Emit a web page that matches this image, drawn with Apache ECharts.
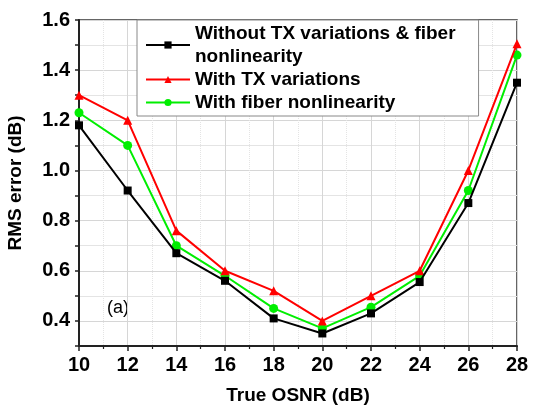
<!DOCTYPE html>
<html><head><meta charset="utf-8">
<script src="https://cdn.jsdelivr.net/npm/echarts@6/dist/echarts.min.js"></script>
<style>html,body{margin:0;padding:0;background:#fff}#c{width:547px;height:409px}</style>
</head><body><div id="c"></div>
<script>
const osnr = [10, 12, 14, 16, 18, 20, 22, 24, 26, 28];
const withoutBoth = [1.18, 0.92, 0.67, 0.56, 0.41, 0.35, 0.43, 0.555, 0.87, 1.35];
const withTx = [1.30, 1.20, 0.76, 0.60, 0.52, 0.40, 0.50, 0.60, 1.00, 1.505];
const withFiber = [1.23, 1.10, 0.70, 0.58, 0.45, 0.37, 0.455, 0.58, 0.92, 1.46];
const yTickLabels = ['0.4', '0.6', '0.8', '1.0', '1.2', '1.4', '1.6'];
const names = ['Without TX variations & fiber\nnonlinearity', 'With TX variations', 'With fiber nonlinearity'];
const colors = ['#000000', '#ff0000', '#00ee00'];
const symbols = ['rect', 'triangle', 'circle'];
const sets = [withoutBoth, withTx, withFiber];
const font = 'Arial, "Liberation Sans", sans-serif';

const chart = echarts.init(document.getElementById('c'));
chart.setOption({
  animation: false,
  backgroundColor: '#fff',
  grid: {left: 79, right: 30, top: 20, bottom: 63, show: true, borderColor: '#333', borderWidth: 1.5,
    containLabel: false, outerBoundsMode: 'none'},
  xAxis: {
    type: 'value', min: 10, max: 28, interval: 2,
    name: 'True OSNR (dB)', nameLocation: 'middle', nameGap: 40,
    nameTextStyle: {fontFamily: font, fontWeight: 'bold', fontSize: 19, color: '#000'},
    axisLine: {onZero: false, lineStyle: {color: '#222', width: 2}},
    axisTick: {length: 5, lineStyle: {color: '#222', width: 1.5}},
    minorTick: {show: true, splitNumber: 2, length: 3, lineStyle: {color: '#222', width: 1.2}},
    axisLabel: {fontFamily: font, fontWeight: 'bold', fontSize: 20, color: '#000', margin: 9},
    splitLine: {show: true, lineStyle: {color: '#d6d6d6', width: 1}},
    minorSplitLine: {show: true, lineStyle: {color: '#e4e4e4', width: 1, type: 'dotted'}}
  },
  yAxis: {
    type: 'value', min: 0.3, max: 1.6, interval: 0.1,
    name: 'RMS error (dB)', nameLocation: 'middle', nameGap: 54,
    nameTextStyle: {fontFamily: font, fontWeight: 'bold', fontSize: 19, color: '#000'},
    axisLine: {show: true, lineStyle: {color: '#222', width: 2}},
    axisTick: {show: true, length: 4, lineStyle: {color: '#222', width: 1.5}},
    axisLabel: {fontFamily: font, fontWeight: 'bold', fontSize: 20, color: '#000', margin: 9,
      formatter: v => { const s = v.toFixed(1); return yTickLabels.indexOf(s) >= 0 ? s : ''; }},
    splitLine: {show: true, lineStyle: {color: ['#e4e4e4', '#d6d6d6'], width: 1}}
  },
  legend: {
    orient: 'vertical', left: 137, top: 20,
    backgroundColor: '#fff', borderColor: '#888', borderWidth: 1,
    padding: [2, 23, 2, 8], itemGap: 0, itemWidth: 44, itemHeight: 9,
    textStyle: {fontFamily: font, fontWeight: 'bold', fontSize: 19, color: '#000', lineHeight: 23},
    data: names
  },
  series: sets.map((d, i) => ({
    name: names[i], type: 'line',
    data: osnr.map((x, j) => [x, d[j]]),
    symbol: symbols[i], symbolSize: i === 0 ? 8 : 9,
    showAllSymbol: true,
    lineStyle: {color: colors[i], width: 2},
    itemStyle: {color: colors[i]},
    z: 5 - i
  })),
  graphic: [{type: 'text', left: 107, top: 299,
    style: {text: '(a)', font: '18px ' + font, fill: '#000'}}]
});
</script></body></html>
